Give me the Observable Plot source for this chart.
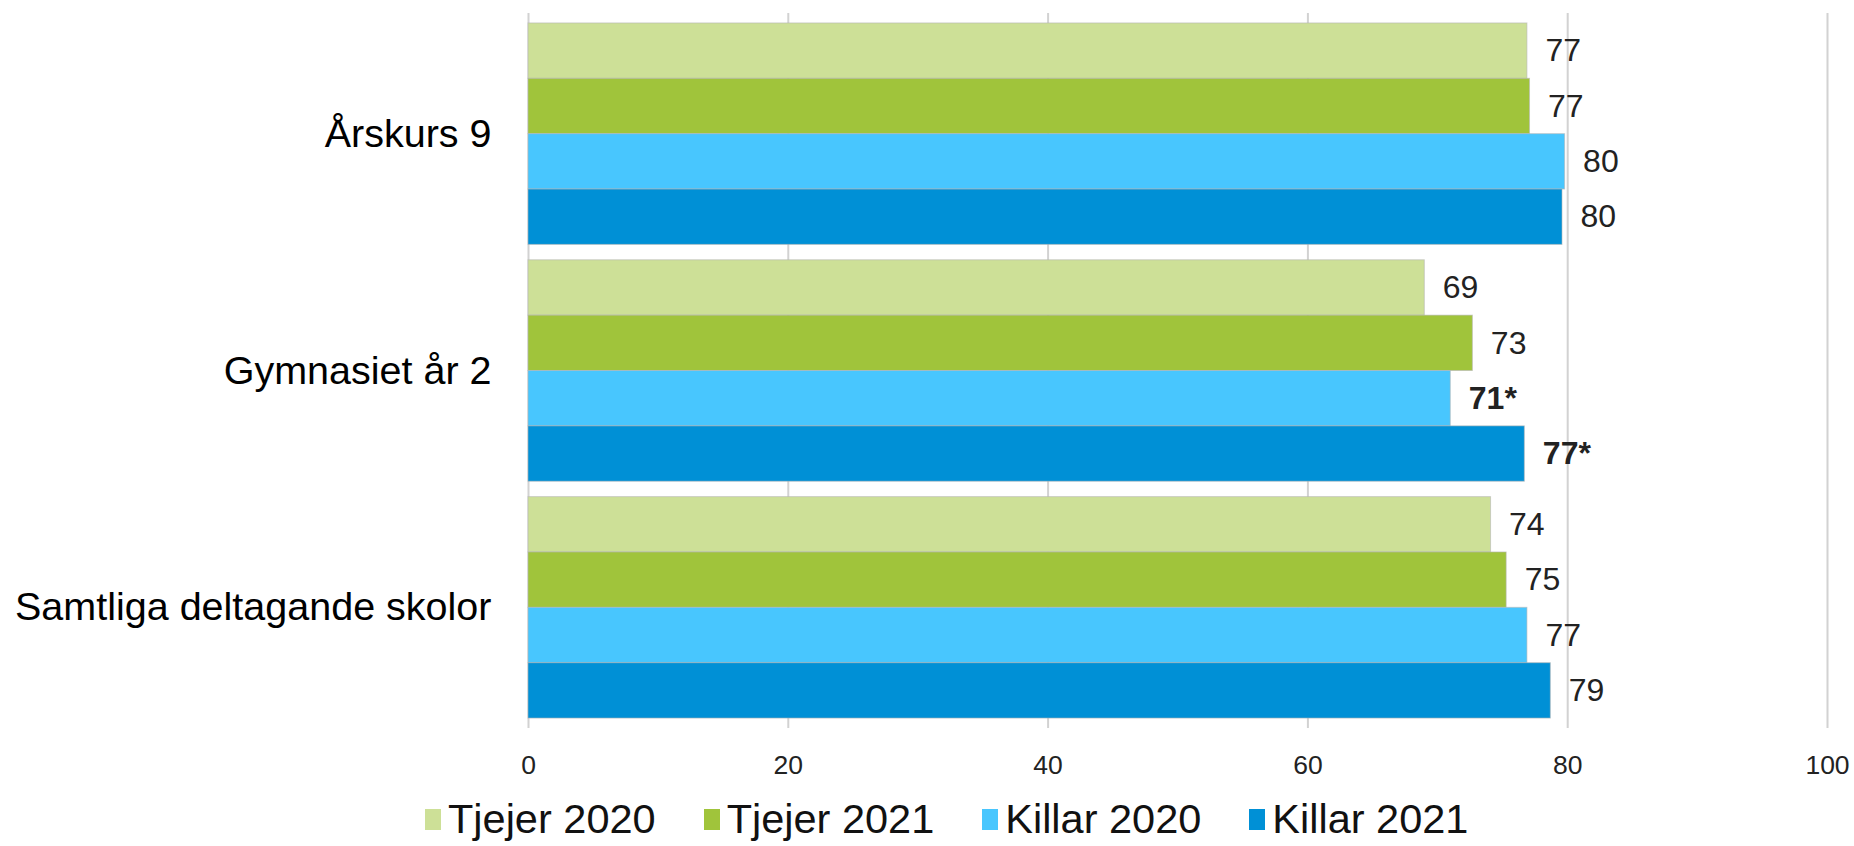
<!DOCTYPE html>
<html><head><meta charset="utf-8">
<script src="https://cdn.jsdelivr.net/npm/d3@7"></script>
<script src="https://cdn.jsdelivr.net/npm/@observablehq/plot@0.6"></script>
<style>
body{margin:0;background:#fff;font-family:"Liberation Sans",Arial,sans-serif;}
#legend{display:flex;align-items:center;gap:48px;padding-left:425px;height:46px;margin-top:6px;font-size:41.5px;color:#111;}
.item{display:flex;align-items:center;white-space:nowrap;}
.sw{width:16px;height:21px;margin-right:7px;}
</style></head><body>
<div id="chart"></div>
<div id="legend"></div>
<script>
const categories = ["Årskurs 9", "Gymnasiet år 2", "Samtliga deltagande skolor"];
const series = ["Tjejer 2020", "Tjejer 2021", "Killar 2020", "Killar 2021"];
const colors = ["#cde097", "#a0c43b", "#48c6fe", "#0090d6"];
const valTjejer2020 = [76.9, 69.0, 74.1];
const valTjejer2021 = [77.1, 72.7, 75.3];
const valKillar2020 = [79.8, 71.0, 76.9];
const valKillar2021 = [79.6, 76.7, 78.7];
const lblTjejer2020 = ["77", "69", "74"];
const lblTjejer2021 = ["77", "73", "75"];
const lblKillar2020 = ["80", "71*", "77"];
const lblKillar2021 = ["80", "77*", "79"];
const sigTjejer2020 = [false, false, false];
const sigTjejer2021 = [false, false, false];
const sigKillar2020 = [false, true, false];
const sigKillar2021 = [false, true, false];
const xTicks = [0, 20, 40, 60, 80, 100];

const vals = [valTjejer2020, valTjejer2021, valKillar2020, valKillar2021];
const lbls = [lblTjejer2020, lblTjejer2021, lblKillar2020, lblKillar2021];
const sigs = [sigTjejer2020, sigTjejer2021, sigKillar2020, sigKillar2021];

const rows = [];
categories.forEach((c, ci) => series.forEach((s, si) => rows.push({
  category: c, series: s, si, value: vals[si][ci], label: lbls[si][ci], sig: sigs[si][ci]
})));

const W = 1854, H = 790, mT = 13, mB = H - 728, mL = 528, mR = 27;
const pIn = 0.065, pOut = 0.042;
const yb = d3.scaleBand(categories, [mT, H - mB]).paddingInner(pIn).paddingOuter(pOut);
const sub = yb.bandwidth() / 4;

const marks = [Plot.ruleX(xTicks, {stroke: "#d2d2d2", strokeWidth: 2})];
series.forEach((s, i) => {
  marks.push(Plot.barX(rows.filter(d => d.si === i), {
    x: "value", y: "category", fill: colors[i],
    stroke: "#b5b5b5", strokeWidth: 1, strokeOpacity: 0.6,
    insetTop: i * sub, insetBottom: (3 - i) * sub
  }));
});
series.forEach((s, i) => {
  [false, true].forEach(b => {
    marks.push(Plot.text(rows.filter(d => d.si === i && d.sig === b), {
      x: "value", y: "category", text: "label", dy: (i - 1.5) * sub, dx: 18,
      textAnchor: "start", fontSize: 32, fill: "#222", fontWeight: b ? "bold" : "normal"
    }));
  });
});
marks.push(Plot.axisX({ticks: xTicks, tickSize: 0, tickPadding: 27, fontSize: 26.5, fill: "#222", label: null}));
marks.push(Plot.axisY({tickSize: 0, tickPadding: 37, fontSize: 39.5, fill: "#000", label: null}));

const chart = Plot.plot({
  width: W, height: H, marginTop: mT, marginBottom: mB, marginLeft: mL, marginRight: mR,
  x: {domain: [0, 100], label: null},
  y: {domain: categories, paddingInner: pIn, paddingOuter: pOut, round: false, label: null},
  style: {fontFamily: "'Liberation Sans', Arial, sans-serif", background: "#fff", overflow: "visible"},
  marks
});
document.getElementById("chart").appendChild(chart);

const leg = document.getElementById("legend");
series.forEach((s, i) => {
  const it = document.createElement("div"); it.className = "item";
  const sw = document.createElement("span"); sw.className = "sw"; sw.style.background = colors[i];
  const tx = document.createElement("span"); tx.textContent = s;
  it.appendChild(sw); it.appendChild(tx); leg.appendChild(it);
});
</script>
</body></html>
